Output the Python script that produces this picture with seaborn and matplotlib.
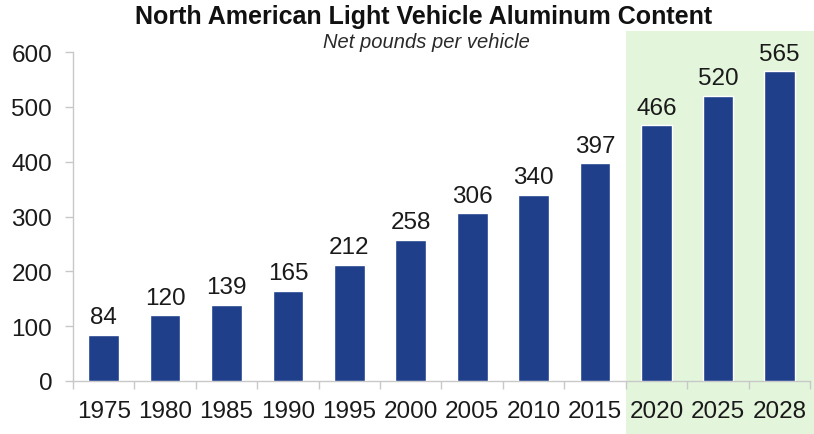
import matplotlib
matplotlib.use("Agg")
import matplotlib.pyplot as plt
import matplotlib.transforms as mtransforms
from matplotlib.patches import Rectangle
import seaborn as sns
import pandas as pd

years = ["1975", "1980", "1985", "1990", "1995", "2000", "2005", "2010", "2015", "2020", "2025", "2028"]
values = [84, 120, 139, 165, 212, 258, 306, 340, 397, 466, 520, 565]
yticks = [0, 100, 200, 300, 400, 500, 600]
title = "North American Light Vehicle Aluminum Content"
subtitle = "Net pounds per vehicle"
highlight_start = "2020"

sns.set_theme(style="white")
plt.rcParams["font.family"] = ["Liberation Sans", "DejaVu Sans"]

df = pd.DataFrame({"year": years, "value": values})

fig = plt.figure(figsize=(8.14, 4.35), dpi=100)
ax = fig.add_axes([73 / 814, (435 - 382) / 435, 737 / 814, 329 / 435])
ax.set_facecolor("none")

# green highlight band behind forecast years
hi = years.index(highlight_start)
trans = mtransforms.blended_transform_factory(ax.transData, fig.transFigure)
band = Rectangle((hi - 0.5, 0), len(years) - hi + 0.2, (435 - 31.5) / 435,
                 transform=trans, facecolor="#E3F5DB", edgecolor="none",
                 clip_on=False, zorder=0)
ax.add_patch(band)

sns.barplot(data=df, x="year", y="value", color="#1F3F8B", width=0.5,
            saturation=1, ax=ax, zorder=3)

for i, v in enumerate(values):
    ax.text(i, v + 12, str(v), ha="center", va="bottom", fontsize=17.5, color="#1a1a1a")

ax.set_ylim(0, 600)
ax.set_xlim(-0.5, len(years) - 0.5)
ax.set_yticks(yticks)
ax.set_xlabel("")
ax.set_ylabel("")
ax.tick_params(axis="both", labelsize=17.5, colors="#1a1a1a")
ax.tick_params(axis="y", length=6, width=1, color="#c8c8c8", pad=9, left=True)
ax.tick_params(axis="x", bottom=False, pad=8)
# boundary tick marks between categories
ax.set_xticks([i - 0.5 for i in range(len(years) + 1)], minor=True)
ax.tick_params(axis="x", which="minor", bottom=True, length=6, width=1, color="#c8c8c8")

for s in ["top", "right"]:
    ax.spines[s].set_visible(False)
for s in ["left", "bottom"]:
    ax.spines[s].set_color("#c8c8c8")
    ax.spines[s].set_linewidth(1)
ax.grid(False)

fig.text(424 / 814, 1 - 17 / 435, title, ha="center", va="center",
         fontsize=18, fontweight="bold", color="#111111")
fig.text(426 / 814, 1 - 43 / 435, subtitle, ha="center", va="center",
         fontsize=14.5, style="italic", color="#2a2a2a")

fig.savefig("out.png", dpi=100)
